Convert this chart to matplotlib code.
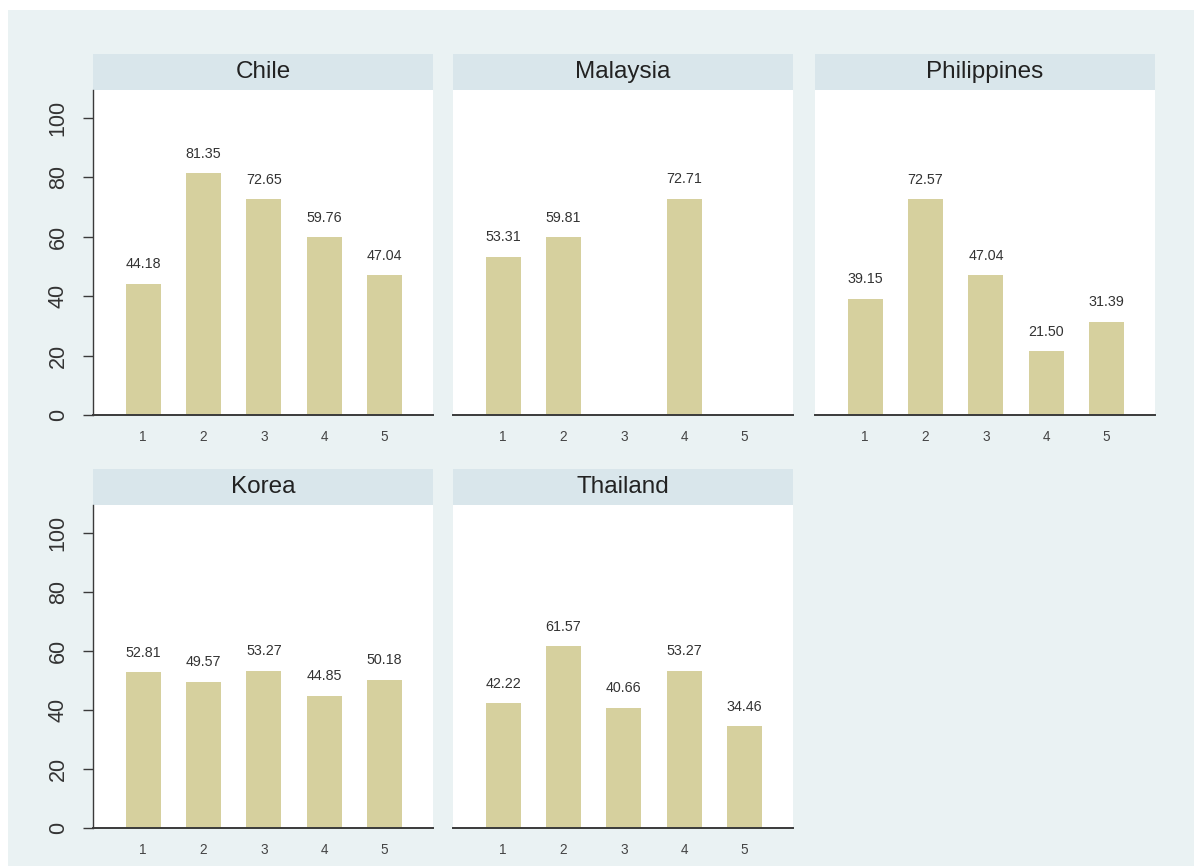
import numpy as np
import matplotlib
matplotlib.use("Agg")
import matplotlib.pyplot as plt
from matplotlib.patches import Rectangle

plt.rcParams['font.family'] = ['Liberation Sans', 'DejaVu Sans']

# data
groups = [1, 2, 3, 4, 5]
countries = ["Chile", "Malaysia", "Philippines", "Korea", "Thailand"]
chile = [44.18, 81.35, 72.65, 59.76, 47.04]
malaysia = [53.31, 59.81, np.nan, 72.71, np.nan]
philippines = [39.15, 72.57, 47.04, 21.50, 31.39]
korea = [52.81, 49.57, 53.27, 44.85, 50.18]
thailand = [42.22, 61.57, 40.66, 53.27, 34.46]
values = [chile, malaysia, philippines, korea, thailand]
yticks = [0, 20, 40, 60, 80, 100]

bg = "#eaf2f3"
strip = "#d9e6eb"
barcol = "#d6d09e"
axcol = "#3a3a3a"

W, H = 1194, 866
fig = plt.figure(figsize=(W / 100, H / 100), dpi=100)
fig.patch.set_facecolor("white")
fig.patches.append(Rectangle((8 / W, 0), 1, 1 - 10 / H, transform=fig.transFigure,
                             facecolor=bg, edgecolor="none", zorder=-10))

# panel boxes in pixels: left, top of plot region, width, height
col_left = [93, 453, 815]
row_top = [90, 505]
row_h = [325, 323]
pw = 340
strip_h = 36

for i, name in enumerate(countries):
    r, c = divmod(i, 3)
    left = col_left[c]
    top = row_top[r]
    h = row_h[r]
    ax = fig.add_axes([left / W, 1 - (top + h) / H, pw / W, h / H])
    ax.set_facecolor("white")
    vals = values[i]
    for x, v in zip(groups, vals):
        if np.isnan(v):
            continue
        ax.bar(x, v, width=0.58, color=barcol, edgecolor="none")
        ax.annotate(f"{v:.2f}", (x, v), xytext=(0, 9), textcoords="offset points",
                    ha="center", va="bottom", fontsize=10.3, color="#333333")
    ax.set_xlim(0.17, 5.8)
    ax.set_ylim(0, 109.4)
    ax.set_xticks(groups)
    ax.tick_params(axis="x", length=0, pad=11, labelsize=9.8, labelcolor="#444444")
    for s in ["top", "right"]:
        ax.spines[s].set_visible(False)
    ax.spines["bottom"].set_color(axcol)
    ax.spines["bottom"].set_linewidth(1.4)
    if c == 0:
        ax.spines["left"].set_color(axcol)
        ax.spines["left"].set_linewidth(1.0)
        ax.set_yticks(yticks)
        ax.tick_params(axis="y", length=7.5, width=1.0, color=axcol, pad=10,
                       labelsize=15.5, labelcolor="#333333", labelrotation=90)
        for lab in ax.get_yticklabels():
            lab.set_va("center")
    else:
        ax.spines["left"].set_visible(False)
        ax.set_yticks([])
    # title strip above the plot region
    sh = strip_h / h
    ax.add_patch(Rectangle((0, 1), 1, sh, transform=ax.transAxes, facecolor=strip,
                           edgecolor="none", clip_on=False))
    ax.text(0.5, 1 + sh / 2, name, transform=ax.transAxes, ha="center", va="center",
            fontsize=17.5, color="#222222")

fig.savefig("out.png", dpi=100, facecolor=fig.get_facecolor())
